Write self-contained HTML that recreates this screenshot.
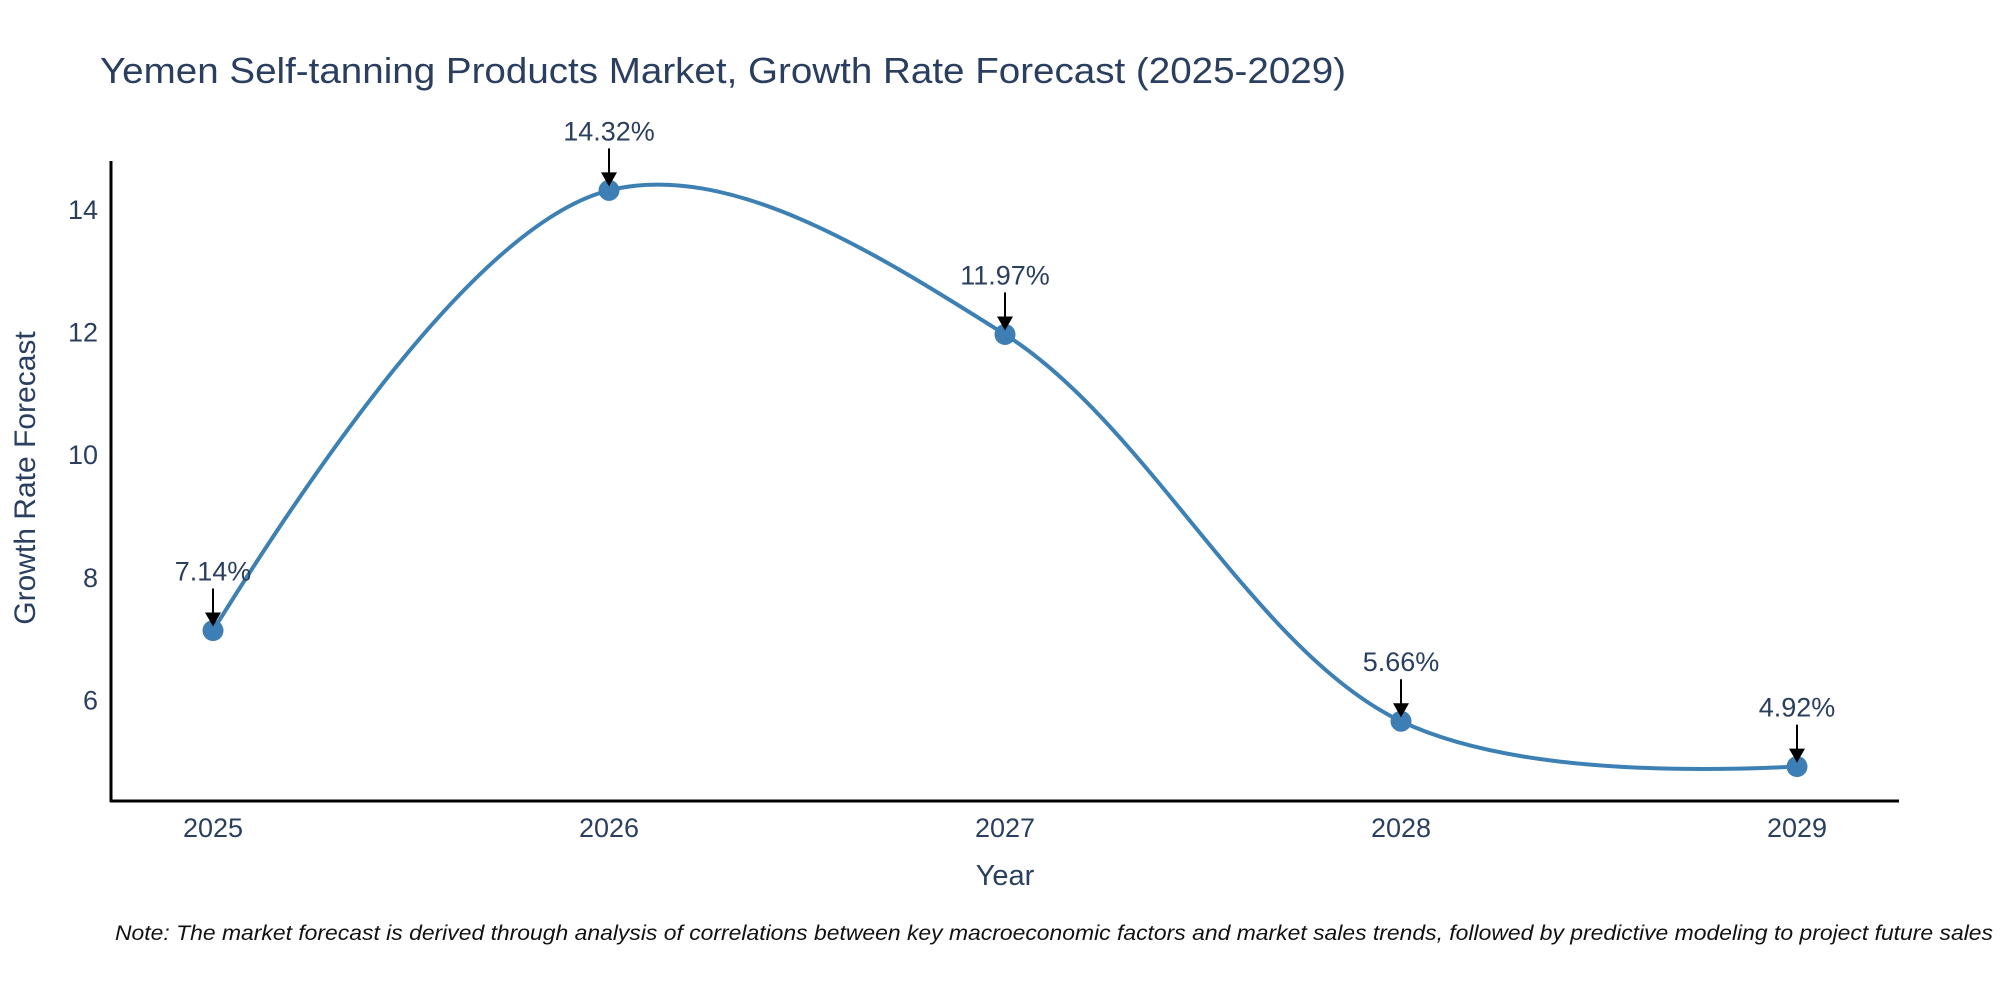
<!DOCTYPE html>
<html><head><meta charset="utf-8"><style>
html,body{margin:0;padding:0;background:#fff;}
svg{display:block;font-family:"Liberation Sans","DejaVu Sans",sans-serif;}
</style></head><body>
<svg id="chart" width="2000" height="1000" viewBox="0 0 2000 1000" xmlns="http://www.w3.org/2000/svg">
<rect width="2000" height="1000" fill="#fff"/>
<text x="100" y="83" font-size="36" fill="#2a3f5f" textLength="1246" lengthAdjust="spacingAndGlyphs">Yemen Self-tanning Products Market, Growth Rate Forecast (2025-2029)</text>
<g id="yticks"></g>
<g id="xticks"></g>
<line x1="111" y1="161" x2="111" y2="802" stroke="#000" stroke-width="3"/>
<line x1="110" y1="801" x2="1899" y2="801" stroke="#000" stroke-width="3"/>
<path id="series-line" fill="none" stroke="#3d80b3" stroke-width="4"/>
<g id="marks"></g>
<g id="annos"></g>
<text x="1005" y="885" font-size="29" fill="#2a3f5f" text-anchor="middle">Year</text>
<text transform="translate(35,478) rotate(-90)" font-size="30" fill="#2a3f5f" text-anchor="middle">Growth Rate Forecast</text>
<text x="115" y="940" font-size="21" font-style="italic" fill="#111" textLength="1878" lengthAdjust="spacingAndGlyphs">Note: The market forecast is derived through analysis of correlations between key macroeconomic factors and market sales trends, followed by predictive modeling to project future sales</text>
</svg>
<script>
const years = ["2025","2026","2027","2028","2029"];
const rates = [7.14, 14.32, 11.97, 5.66, 4.92];
const yTickValues = [6, 8, 10, 12, 14];
const NS = "http://www.w3.org/2000/svg";
const X0 = 213, XSTEP = 396;
function xPos(i){ return X0 + i*XSTEP; }
function yPos(v){ return 210 + (14 - v)*61.3; }
function mk(tag, attrs, parent){ const e=document.createElementNS(NS,tag); for(const k in attrs) e.setAttribute(k,attrs[k]); parent.appendChild(e); return e; }
const yt=document.getElementById('yticks');
yTickValues.forEach(v=>{
  const t=mk('text',{x:98,y:yPos(v)+9,'font-size':27,fill:'#2a3f5f','text-anchor':'end'},yt);
  t.textContent=v;
  
  
});
const xt=document.getElementById('xticks');
years.forEach((y,i)=>{
  const t=mk('text',{x:xPos(i),y:837,'font-size':27,fill:'#2a3f5f','text-anchor':'middle'},xt);
  t.textContent=y;
  
  
});
const pts=rates.map((v,i)=>[xPos(i),yPos(v)]);
function tangent(p0,p1,p2){
  const d1x=p0[0]-p1[0],d1y=p0[1]-p1[1],d2x=p2[0]-p1[0],d2y=p2[1]-p1[1];
  const d1a=Math.pow(d1x*d1x+d1y*d1y,0.25),d2a=Math.pow(d2x*d2x+d2y*d2y,0.25);
  const nx=(d2a*d2a*d1x-d1a*d1a*d2x),ny=(d2a*d2a*d1y-d1a*d1a*d2y);
  const den1=3*d2a*(d1a+d2a),den2=3*d1a*(d1a+d2a);
  return [[p1[0]+nx/den1,p1[1]+ny/den1],[p1[0]-nx/den2,p1[1]-ny/den2]];
}
const tg=[];
for(let i=1;i<pts.length-1;i++) tg.push(tangent(pts[i-1],pts[i],pts[i+1]));
let d=`M${pts[0]} Q${tg[0][0]} ${pts[1]}`;
for(let i=2;i<pts.length-1;i++) d+=` C${tg[i-2][1]} ${tg[i-1][0]} ${pts[i]}`;
d+=` Q${tg[tg.length-1][1]} ${pts[pts.length-1]}`;
document.getElementById('series-line').setAttribute('d',d);
const mg=document.getElementById('marks'), ag=document.getElementById('annos');
pts.forEach((p,i)=>{
  const c=mk('circle',{cx:p[0],cy:p[1],r:10.5,fill:'#3d7fb4'},mg);
  
  
  const l=mk('line',{x1:p[0],y1:p[1]-42,x2:p[0],y2:p[1]-14,stroke:'#000','stroke-width':2},ag);
  
  
  const h=mk('polygon',{points:`${p[0]-8},${p[1]-18} ${p[0]+8},${p[1]-18} ${p[0]},${p[1]-4}`,fill:'#000'},ag);
  
  
  const t=mk('text',{x:p[0],y:p[1]-50,'font-size':27,fill:'#2a3f5f','text-anchor':'middle'},ag);
  t.textContent=rates[i].toFixed(2)+'%';
  
  
});
</script>
</body></html>
